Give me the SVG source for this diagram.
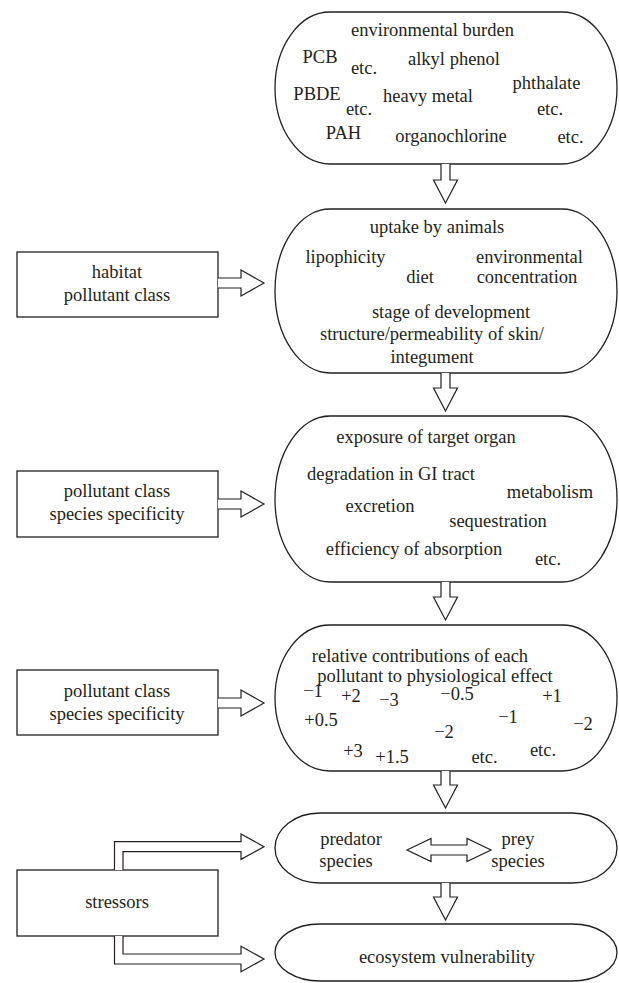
<svg xmlns="http://www.w3.org/2000/svg" width="619" height="983" viewBox="0 0 619 983" font-family="'Liberation Serif', 'Times New Roman', 'DejaVu Serif', serif">
<style>
.n{fill:#fff;stroke:#231f20;stroke-width:1.3}
.a{fill:#fff;stroke:#231f20;stroke-width:1.2;stroke-linejoin:miter}
text{font-family:'Liberation Serif','Times New Roman','DejaVu Serif',serif;font-size:18.5px;fill:#231f20;text-anchor:middle}
</style>
<rect width="619" height="983" fill="#fff"/>
<g id="burden">
<rect class="n" x="275" y="12" width="342" height="152" rx="55" ry="76"/>
<text x="432.5" y="36">environmental burden</text>
<text x="320" y="62.7">PCB</text>
<text x="364" y="74">etc.</text>
<text x="454" y="65">alkyl phenol</text>
<text x="546.5" y="89">phthalate</text>
<text x="317" y="100">PBDE</text>
<text x="428" y="101.7">heavy metal</text>
<text x="359" y="115">etc.</text>
<text x="550" y="115">etc.</text>
<text x="343.5" y="139.3">PAH</text>
<text x="451" y="141.7">organochlorine</text>
<text x="570.5" y="143.3">etc.</text>
</g>
<g id="uptake">
<rect class="n" x="275" y="209" width="342" height="164" rx="55" ry="82"/>
<text x="437" y="233">uptake by animals</text>
<text x="345.5" y="263">lipophicity</text>
<text x="529.5" y="263">environmental</text>
<text x="420" y="282.7">diet</text>
<text x="527" y="282.7">concentration</text>
<text x="451" y="318.3">stage of development</text>
<text x="432" y="340">structure/permeability of skin/</text>
<text x="432" y="362.7">integument</text>
</g>
<g id="exposure">
<rect class="n" x="275" y="416" width="342" height="166" rx="55" ry="83"/>
<text x="426" y="442.7">exposure of target organ</text>
<text x="391" y="480">degradation in GI tract</text>
<text x="550" y="498.3">metabolism</text>
<text x="380" y="511.7">excretion</text>
<text x="498" y="527.3">sequestration</text>
<text x="414" y="555">efficiency of absorption</text>
<text x="548" y="565">etc.</text>
</g>
<g id="contributions">
<rect class="n" x="275" y="625" width="342" height="146" rx="55" ry="73"/>
<text x="420" y="661.7">relative contributions of each</text>
<text x="435" y="681.7">pollutant to physiological effect</text>
<text x="313" y="696.7">−1</text>
<text x="351" y="701.7">+2</text>
<text x="389" y="706">−3</text>
<text x="457" y="700">−0.5</text>
<text x="552" y="701.7">+1</text>
<text x="321" y="726">+0.5</text>
<text x="508" y="723.3">−1</text>
<text x="583" y="730">−2</text>
<text x="444" y="738.3">−2</text>
<text x="353" y="757.3">+3</text>
<text x="392" y="763.3">+1.5</text>
<text x="484.5" y="763.3">etc.</text>
<text x="543" y="756">etc.</text>
</g>
<g id="species">
<rect class="n" x="275" y="813" width="342" height="70" rx="45" ry="35"/>
<text x="351" y="845">predator</text>
<text x="346" y="866.7">species</text>
<text x="518" y="845">prey</text>
<text x="518" y="866.7">species</text>
</g>
<g id="ecosystem">
<rect class="n" x="275" y="924" width="342" height="57" rx="45" ry="28.5"/>
<text x="447" y="963">ecosystem vulnerability</text>
</g>
<g id="habitat">
<rect class="n" x="17" y="252" width="201" height="65"/>
<text x="117" y="278">habitat</text>
<text x="117" y="300.7">pollutant class</text>
</g>
<g id="factors1">
<rect class="n" x="17" y="471" width="201" height="66"/>
<text x="117" y="496.7">pollutant class</text>
<text x="117" y="520">species specificity</text>
</g>
<g id="factors2">
<rect class="n" x="17" y="670" width="201" height="65"/>
<text x="117" y="696.7">pollutant class</text>
<text x="117" y="720">species specificity</text>
</g>
<g id="stressors">
<rect class="n" x="17" y="870" width="201" height="66"/>
<text x="117" y="908.3">stressors</text>
</g>
<g id="connectors">
<path class="a" d="M441 164 V180 H433.5 L445.5 203 L457.5 180 H450 V164"/>
<path class="a" d="M441 373 V388 H433.5 L445.5 411 L457.5 388 H450 V373"/>
<path class="a" d="M441 582 V597 H433.5 L445.5 620 L457.5 597 H450 V582"/>
<path class="a" d="M441 771 V785 H433.5 L445.5 808 L457.5 785 H450 V771"/>
<path class="a" d="M441 883 V897 H433.5 L445.5 920 L457.5 897 H450 V883"/>
<path class="a" d="M218 278 H241 V270 L264 283 L241 296 V288 H218"/>
<path class="a" d="M218 499 H241 V491 L264 504 L241 517 V509 H218"/>
<path class="a" d="M218 698 H241 V690 L264 703 L241 716 V708 H218"/>
<path class="a" d="M407 850 L431 838.5 V845 H467 V838.5 L491 850 L467 861.5 V855 H431 V861.5 Z"/>
<path class="a" d="M114.5 870 V841.7 H241 V834 L264 846.7 L241 859.4 V851.7 H123 V870"/>
<path class="a" d="M114.5 936 V964 H241 V971.7 L264 959 L241 946.3 V954 H123 V936"/>
</g>
</svg>
